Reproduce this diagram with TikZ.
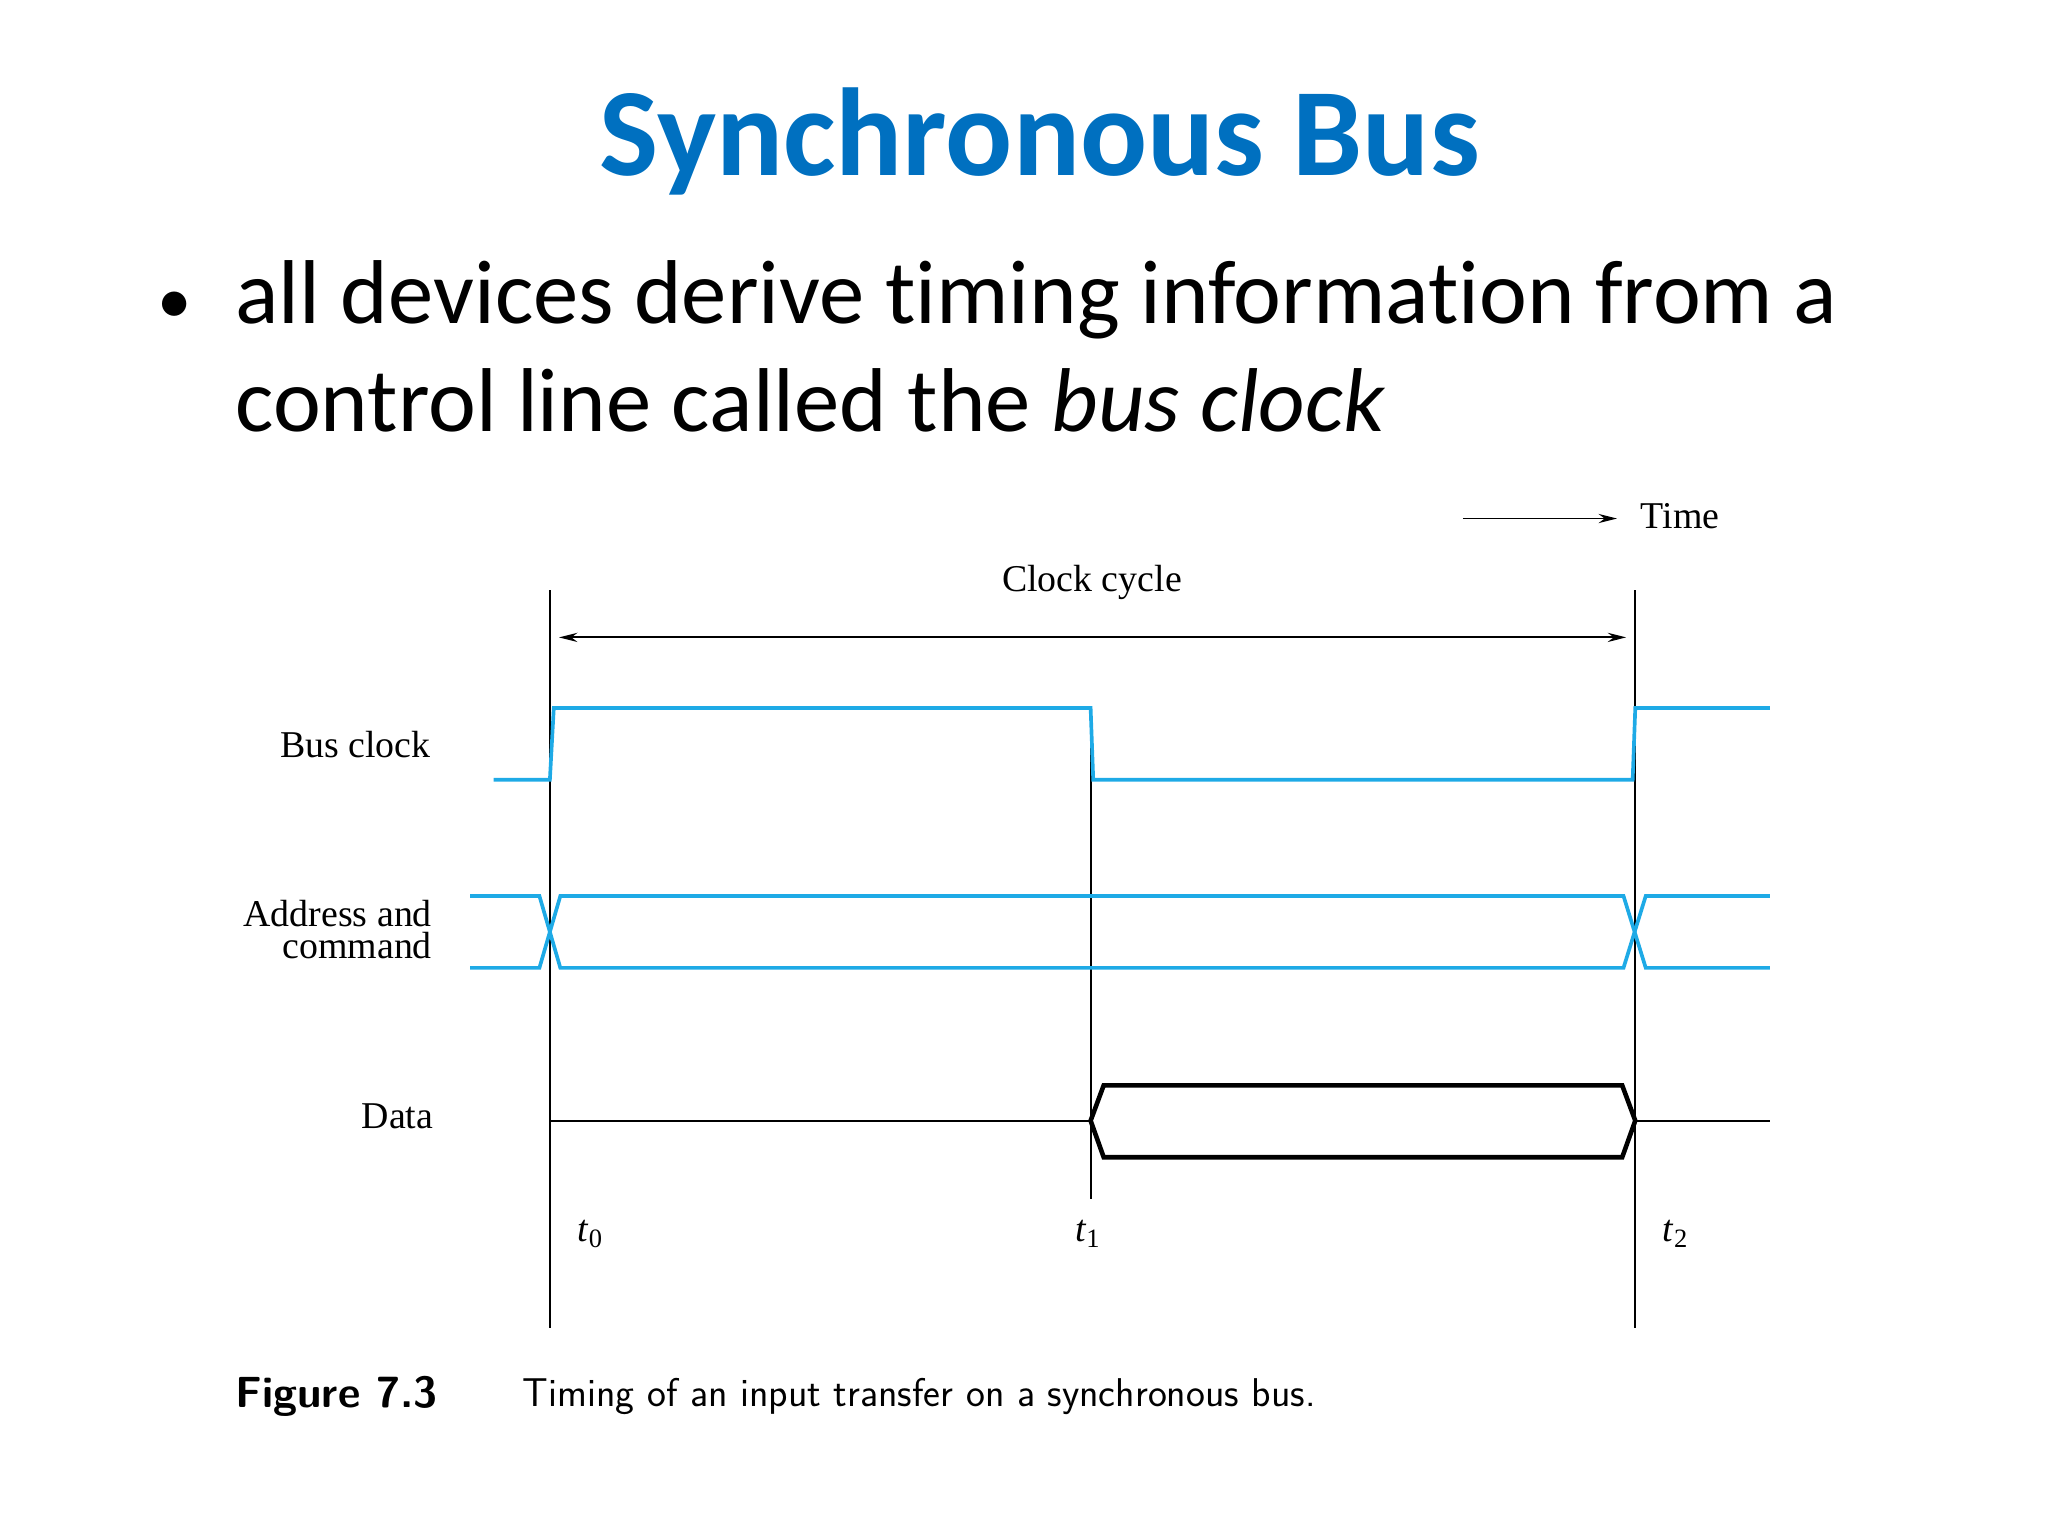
\documentclass[tikz,border=0pt]{standalone}
\usepackage{fontspec}
\setmainfont{Liberation Serif}
\newfontfamily\calfont[RawFeature=-liga]{Carlito}
\usetikzlibrary{arrows.meta}
\definecolor{ttl}{RGB}{0,112,192}
\definecolor{sig}{RGB}{30,170,230}
\begin{document}
\begin{tikzpicture}[x=0.02cm,y=-0.02cm,
  lbl/.style={font=\fontsize{16.5}{17}\selectfont,inner sep=0},
  wave/.style={sig,line width=1.6pt},
  guide/.style={black,line width=0.8pt},
  arr/.style={-{Stealth[length=8pt,width=4pt]},line width=0.8pt}]
\useasboundingbox (0,0) rectangle (1568,1176);
\node (title) at (796,108) {\calfont\bfseries\color{ttl}\fontsize{54.5}{58}\selectfont Synchronous Bus};
\node[anchor=base west,inner sep=0] (bul) at (120,248) {\calfont\fontsize{30}{32}\selectfont •};
\node[anchor=base west,inner sep=0] (l1) at (180,248) {\calfont\fontsize{39.5}{42}\selectfont all devices derive timing information from a};
\node[anchor=base west,inner sep=0] (l2) at (180,330) {\calfont\fontsize{39.5}{42}\selectfont control line called the \textit{bus clock}};
% guides
\coordinate (g0t) at (421,452); \coordinate (g0b) at (421,1017);
\coordinate (g1t) at (835,545); \coordinate (g1b) at (835,918);
\coordinate (g2t) at (1252,452); \coordinate (g2b) at (1252,1017);
\draw[guide] (g0t)--(g0b); \draw[guide] (g1t)--(g1b); \draw[guide] (g2t)--(g2b);
\coordinate (ca) at (428,488); \coordinate (cb) at (1245,488);
\draw[arr,{Stealth[length=8pt,width=4pt]}-{Stealth[length=8pt,width=4pt]}] (ca)--(cb);
\node[lbl] (cc) at (836,446) {Clock cycle};
\coordinate (ta) at (1120,397); \coordinate (tb) at (1238,397);
\draw[arr] (ta)--(tb);
\node[lbl,anchor=west] (time) at (1256,395) {Time};
% bus clock
\draw[wave] (378,597)--(421,597)--(424,542)--(835,542)--(837,597)--(1250,597)--(1252,542)--(1355,542);
\node[lbl,anchor=east] (bc) at (330,570) {Bus clock};
% address
\draw[wave] (360,686)--(413,686)--(429,741)--(1243,741)--(1260,686)--(1355,686);
\draw[wave] (360,741)--(413,741)--(429,686)--(1243,686)--(1260,741)--(1355,741);
\node[lbl,anchor=east,align=right] (ad) at (331,712) {Address and\\[-3pt]command};
% data
\draw[guide] (421,858)--(835,858);
\draw[line width=2pt,line join=miter] (835,858)--(845,831)--(1242,831)--(1252,858)--(1242,886)--(845,886)--cycle;
\draw[guide] (1252,858)--(1355,858);
\node[lbl,anchor=east] (dt) at (332,855) {Data};
\node[lbl] (t0) at (452,945) {\textit{t}\textsubscript{0}};
\node[lbl] (t1) at (833,945) {\textit{t}\textsubscript{1}};
\node[lbl] (t2) at (1283,945) {\textit{t}\textsubscript{2}};
\node[anchor=west,inner sep=0] (fig) at (180,1069) {\sffamily\bfseries\fontsize{19}{20}\selectfont Figure 7.3};
\node[anchor=west,inner sep=0] (cap) at (400,1069) {\sffamily\fontsize{17.5}{18}\selectfont Timing of an input transfer on a synchronous bus.};
\end{tikzpicture}
\end{document}
